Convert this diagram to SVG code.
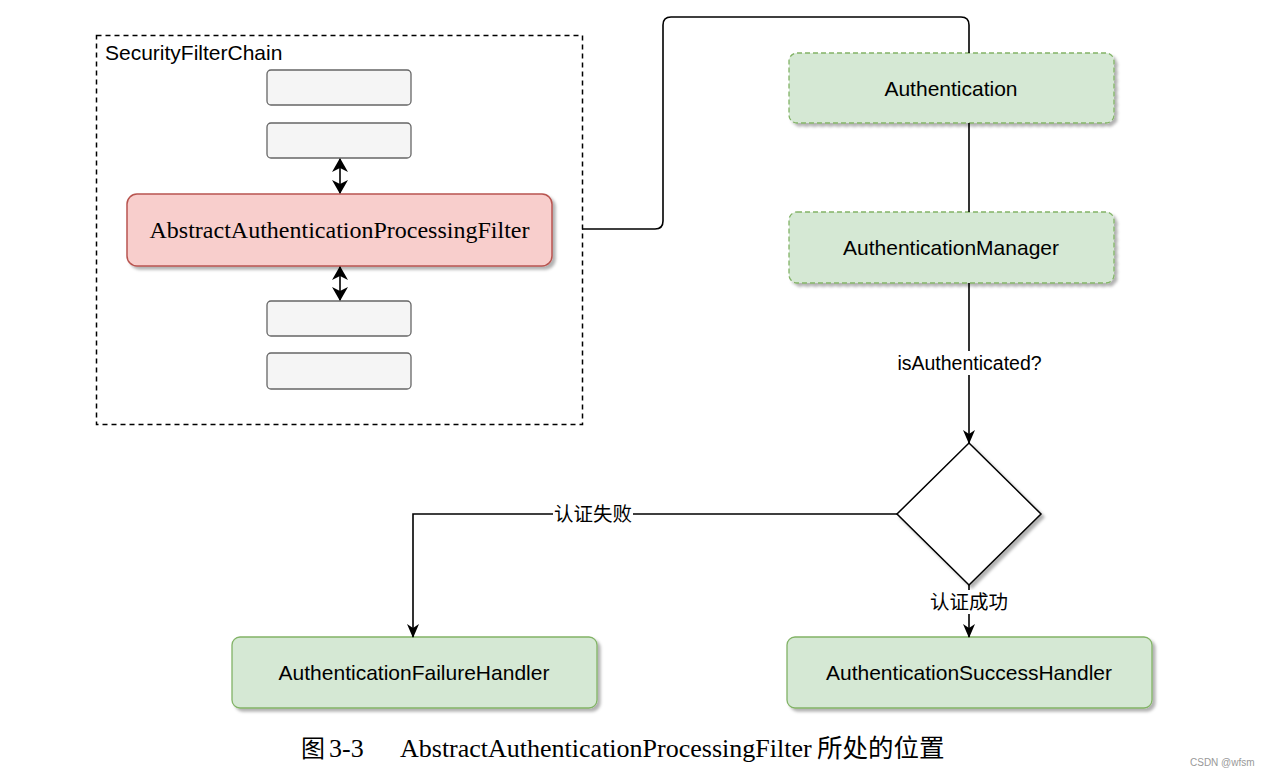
<svg xmlns="http://www.w3.org/2000/svg" width="1266" height="776" viewBox="0 0 1266 776">
<style>
.sans{font-family:"Liberation Sans",Arial,sans-serif;fill:#000}
.serif{font-family:"Liberation Serif","Times New Roman",serif;fill:#000}
.cjk{font-family:"Liberation Sans","Noto Sans CJK SC",sans-serif;fill:#000}
.cjkc{font-family:"Liberation Serif","Noto Sans CJK SC",serif;fill:#000}
.gray{fill:#f5f5f5;stroke:#666666;stroke-width:1.3}
.green{fill:#d5e8d4;stroke:#82b366;stroke-width:1.3}
.dash{stroke-dasharray:5 3}
.edge{fill:none;stroke:#000;stroke-width:1.6}
.lbl{fill:#fff;stroke:none}
</style>
<defs>
<filter id="sh" x="-10%" y="-10%" width="130%" height="140%">
<feDropShadow dx="3" dy="3" stdDeviation="1.5" flood-color="#000" flood-opacity="0.3"/>
</filter>
<marker id="arr" viewBox="0 0 14 14" refX="13" refY="7" markerWidth="14" markerHeight="14" markerUnits="userSpaceOnUse" orient="auto">
<path d="M0,1 L14,7 L0,13 L4,7 Z" fill="#000"/>
</marker>
<marker id="arrB" viewBox="0 0 14 16" refX="13" refY="8" markerWidth="14" markerHeight="16" markerUnits="userSpaceOnUse" orient="auto">
<path d="M0,0 L14,8 L0,16 L4,8 Z" fill="#000"/>
</marker>
<marker id="arrBS" viewBox="0 0 14 16" refX="1" refY="8" markerWidth="14" markerHeight="16" markerUnits="userSpaceOnUse" orient="auto">
<path d="M14,0 L0,8 L14,16 L10,8 Z" fill="#000"/>
</marker>
</defs>
<rect width="1266" height="776" fill="#fff"/>

<g id="security-filter-chain">
<rect x="96.5" y="35.5" width="486" height="389" fill="none" stroke="#000" stroke-width="1.5" stroke-dasharray="5 4"/>
<text class="sans" x="105" y="60" font-size="21">SecurityFilterChain</text>
</g>

<g id="filter-1"><rect class="gray" x="267" y="70" width="144" height="35" rx="4"/></g>
<g id="filter-2"><rect class="gray" x="267" y="123" width="144" height="35" rx="4"/></g>
<g id="abstract-filter">
<rect x="127" y="194" width="425" height="72" rx="10" fill="#f8cecc" stroke="#b85450" stroke-width="1.5" filter="url(#sh)"/>
<text class="serif" x="339.5" y="238" font-size="24" text-anchor="middle">AbstractAuthenticationProcessingFilter</text>
</g>
<g id="filter-3"><rect class="gray" x="267" y="301" width="144" height="35" rx="4"/></g>
<g id="filter-4"><rect class="gray" x="267" y="353" width="144" height="36" rx="4"/></g>

<g id="authentication">
<rect class="green dash" x="789" y="53" width="325" height="70" rx="8" filter="url(#sh)"/>
<text class="sans" x="951" y="96" font-size="21" text-anchor="middle">Authentication</text>
</g>
<g id="authentication-manager">
<rect class="green dash" x="789" y="212" width="325" height="71" rx="8" filter="url(#sh)"/>
<text class="sans" x="951" y="255" font-size="21" text-anchor="middle">AuthenticationManager</text>
</g>
<g id="decision">
<polygon points="969,443 1041,514 969,585 897,514" fill="#fff" stroke="#000" stroke-width="1.5" filter="url(#sh)"/>
</g>
<g id="failure-handler">
<rect class="green" x="232" y="637" width="365" height="71" rx="8" filter="url(#sh)"/>
<text class="sans" x="414" y="680" font-size="21" text-anchor="middle">AuthenticationFailureHandler</text>
</g>
<g id="success-handler">
<rect class="green" x="787" y="637" width="365" height="71" rx="8" filter="url(#sh)"/>
<text class="sans" x="969" y="680" font-size="21" text-anchor="middle">AuthenticationSuccessHandler</text>
</g>

<g id="connectors">
<path class="edge" d="M340,159 V193" marker-start="url(#arrBS)" marker-end="url(#arrB)"/>
<path class="edge" d="M340,267 V300" marker-start="url(#arrBS)" marker-end="url(#arrB)"/>
<path class="edge" d="M582,229 H655 Q663,229 663,221 V25 Q663,17 671,17 H961 Q969,17 969,25 V53"/>
<path class="edge" d="M969,123 V212"/>
<path class="edge" d="M969,283 V443" marker-end="url(#arr)"/>
<rect class="lbl" x="895" y="351" width="149" height="24"/>
<text class="sans" x="969.5" y="370" font-size="19.5" text-anchor="middle">isAuthenticated?</text>
<path class="edge" d="M897,514 H413 V637" marker-end="url(#arr)"/>
<rect class="lbl" x="553" y="502" width="80" height="24"/>
<text class="cjk" x="593" y="521" font-size="19.5" text-anchor="middle">认证失败</text>
<path class="edge" d="M969,585 V637" marker-end="url(#arr)"/>
<rect class="lbl" x="929" y="590" width="80" height="24"/>
<text class="cjk" x="969" y="609" font-size="19.5" text-anchor="middle">认证成功</text>
</g>

<g id="caption">
<text class="cjkc" x="301" y="757" font-size="24">图</text>
<text class="serif" x="329" y="757" font-size="26">3-3</text>
<text class="serif" x="400" y="757" font-size="26">AbstractAuthenticationProcessingFilter</text>
<text class="cjkc" x="817" y="757" font-size="25.5">所处的位置</text>
</g>
<text x="1190" y="766" font-family="Liberation Sans, Arial, sans-serif" font-size="10" fill="#999">CSDN @wfsm</text>
</svg>
